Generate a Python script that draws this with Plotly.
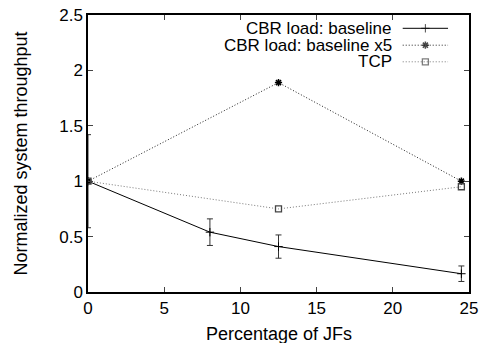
import plotly.graph_objects as go

# ---- data ----
x_base = [0, 8, 12.5, 24.5]
y_base = [1.0, 0.54, 0.41, 0.165]
err_base = [0.42, 0.12, 0.105, 0.07]

x_x5 = [0, 12.5, 24.5]
y_x5 = [1.0, 1.89, 1.0]

x_tcp = [0, 12.5, 24.5]
y_tcp = [1.0, 0.75, 0.95]

series_names = ["CBR load: baseline", "CBR load: baseline x5", "TCP"]
x_ticks = [0, 5, 10, 15, 20, 25]
y_ticks = [0, 0.5, 1, 1.5, 2, 2.5]
y_tick_text = ["0", "0.5", "1", "1.5", "2", "2.5"]
x_title = "Percentage of JFs"
y_title = "Normalized system throughput"

FONT = "Liberation Sans"
FS = 18
LFS = 17
TFS = 17

fig = go.Figure()

fig.add_trace(go.Scatter(
    x=x_base, y=y_base, mode="lines+markers",
    line=dict(color="black", width=1),
    marker=dict(symbol="cross-thin", size=6, line=dict(color="black", width=1)),
    error_y=dict(type="data", array=err_base, visible=True, color="#333333",
                 thickness=1, width=3),
    showlegend=False))

fig.add_trace(go.Scatter(
    x=x_x5, y=y_x5, mode="lines+markers",
    line=dict(color="#222222", width=1, dash="1px,2px"),
    marker=dict(symbol="asterisk", size=6, color="black",
                line=dict(color="black", width=1.5)),
    showlegend=False))

fig.add_trace(go.Scatter(
    x=x_tcp, y=y_tcp, mode="lines+markers",
    line=dict(color="#777777", width=1, dash="1px,2px"),
    marker=dict(symbol="square-open", size=6, color="#444444",
                line=dict(color="#444444", width=1.3)),
    showlegend=False))

# ---- custom legend (text right-aligned, sample on the right) ----
leg_rows = [0.952, 0.891, 0.831]
leg_styles = [
    dict(line=dict(color="black", width=1),
         marker=dict(symbol="cross-thin", size=[0, 6, 0], line=dict(color="black", width=1))),
    dict(line=dict(color="#222222", width=1, dash="1px,2px"),
         marker=dict(symbol="asterisk", size=[0, 6, 0], color="black", line=dict(color="black", width=1.5))),
    dict(line=dict(color="#777777", width=1, dash="1px,2px"),
         marker=dict(symbol="square-open", size=[0, 6, 0], color="#444444", line=dict(color="#444444", width=1.3))),
]
for name, yr, st in zip(series_names, leg_rows, leg_styles):
    fig.add_trace(go.Scatter(
        x=[0.826, 0.8855, 0.945], y=[yr, yr, yr], mode="lines+markers",
        xaxis="x2", yaxis="y2", showlegend=False, hoverinfo="skip", **st))
    fig.add_annotation(text=name, xref="paper", yref="paper", x=0.80, y=yr,
                       xanchor="right", yanchor="middle", showarrow=False,
                       borderpad=0, height=15,
                       font=dict(family=FONT, size=LFS, color="black"))

# x-axis title as an annotation (placed like the reference)
fig.add_annotation(text=x_title, xref="paper", yref="paper", x=0.5, y=0,
                   xanchor="center", yanchor="middle", yshift=-42, showarrow=False,
                   borderpad=0, font=dict(family=FONT, size=FS, color="black"))

fig.update_layout(
    width=481, height=343,
    margin=dict(l=88, r=12, t=15, b=51, autoexpand=False),
    paper_bgcolor="white", plot_bgcolor="white",
    font=dict(family=FONT, size=FS, color="black"),
    xaxis=dict(range=[0, 25], tickvals=x_ticks, ticks="inside", ticklen=5,
               showline=True, linecolor="black", linewidth=1.5, mirror="ticks",
               showgrid=False, zeroline=False, automargin=False,
               tickfont=dict(family=FONT, size=TFS)),
    yaxis=dict(range=[0, 2.5], tickvals=y_ticks, ticktext=y_tick_text, ticks="inside", ticklen=5,
               showline=True, linecolor="black", linewidth=1.5, mirror="ticks",
               showgrid=False, zeroline=False, automargin=False,
               tickfont=dict(family=FONT, size=TFS),
               title=dict(text=y_title, font=dict(family=FONT, size=FS), standoff=27)),
    xaxis2=dict(overlaying="x", range=[0, 1], visible=False, fixedrange=True),
    yaxis2=dict(overlaying="y", range=[0, 1], visible=False, fixedrange=True),
)

fig.write_html("out.html", config={"displayModeBar": False},
               post_script="document.body.style.margin='0';document.body.style.overflow='hidden';")
